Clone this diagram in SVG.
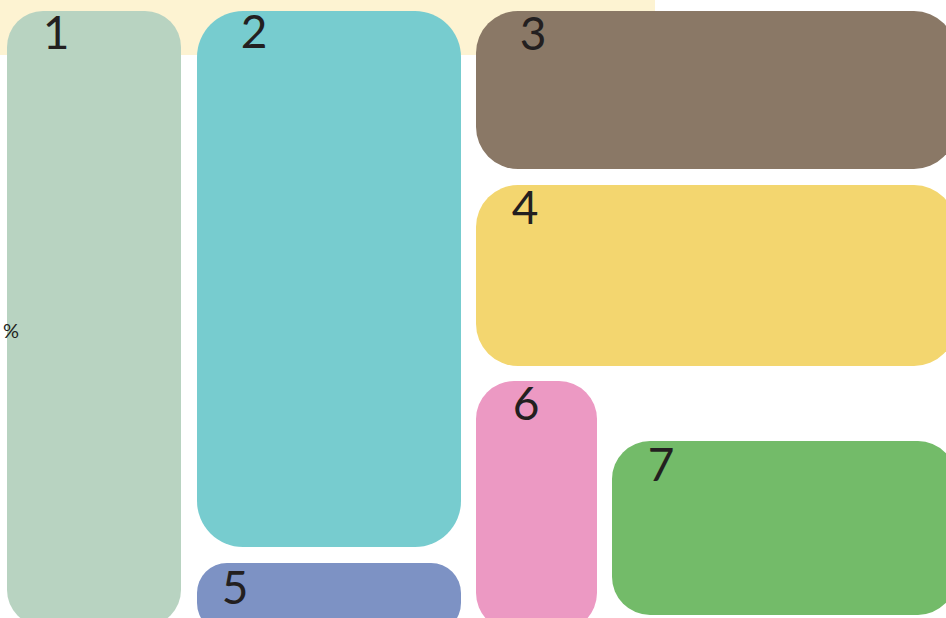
<svg xmlns="http://www.w3.org/2000/svg" width="946" height="618" viewBox="0 0 946 618">
<style>
.lbl{font-family:"Lato","Open Sans",sans-serif;font-size:46px;fill:#231F20;text-anchor:middle}
.pct{font-family:"Lato","Open Sans",sans-serif;font-size:20px;fill:#231F20}
</style>
<rect x="0" y="0" width="946" height="618" fill="#FFFFFF"/>
<rect x="0" y="0" width="655" height="55" fill="#FDF3D2"/>
<g id="node1"><rect x="7" y="11" width="174" height="615" rx="36" fill="#B8D3C1"/><text class="lbl" x="56" y="49">1</text></g>
<g id="node2"><rect x="197" y="11" width="264" height="536" rx="46" fill="#77CCCF"/><text class="lbl" x="254" y="48">2</text></g>
<g id="node3"><rect x="476" y="11" width="480" height="158" rx="42" fill="#8A7866"/><text class="lbl" x="533" y="50">3</text></g>
<g id="node4"><rect x="476" y="185" width="480" height="181" rx="42" fill="#F3D66F"/><text class="lbl" x="525" y="224">4</text></g>
<g id="node5"><rect x="197" y="563" width="264" height="70" rx="30" fill="#7D92C4"/><text class="lbl" x="235" y="604">5</text></g>
<g id="node6"><rect x="476" y="381" width="121" height="250" rx="38" fill="#EC99C3"/><text class="lbl" x="526" y="420">6</text></g>
<g id="node7"><rect x="612" y="441" width="344" height="174" rx="38" fill="#73BB69"/><text class="lbl" x="661" y="481">7</text></g>
<g id="connectors"></g>
<text class="pct" x="3" y="338">%</text>
</svg>
